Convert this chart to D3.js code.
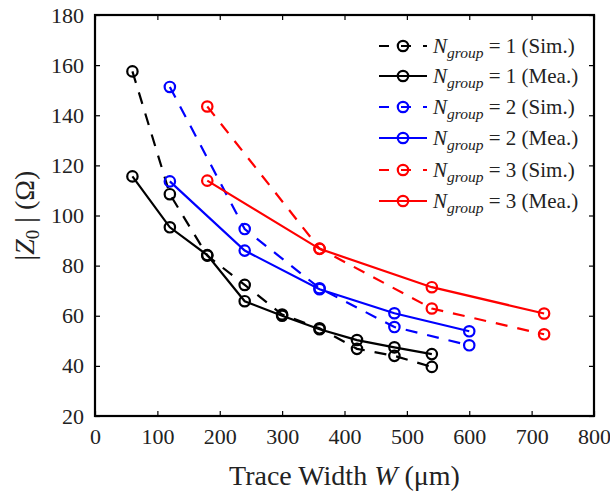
<!DOCTYPE html>
<html>
<head>
<meta charset="utf-8">
<script src="https://cdn.jsdelivr.net/npm/d3@7"></script>
<style>
  html, body { margin: 0; padding: 0; background: #fff; }
  svg { display: block; }
  text { font-family: "Liberation Serif", "Times New Roman", serif; }
</style>
</head>
<body>
<svg id="chart" width="610" height="493"></svg>
<script>
// Trace widths (µm) per group count
const widthsG1 = [60, 120, 180, 240, 300, 360, 420, 480, 540];
const widthsG2 = [120, 240, 360, 480, 600];
const widthsG3 = [180, 360, 540, 720];

// Characteristic impedance |Z0| (Ω)
const g1Sim = [157.5, 108.5, 84.0, 72.3, 60.5, 55.0, 46.8, 44.0, 39.6];
const g1Mea = [115.6, 95.3, 84.2, 65.8, 60.0, 54.6, 50.3, 47.4, 44.7];
const g2Sim = [151.3, 94.6, 71.0, 55.5, 48.2];
const g2Mea = [113.6, 86.0, 70.6, 61.0, 53.8];
const g3Sim = [143.5, 86.8, 62.9, 52.6];
const g3Mea = [113.9, 86.7, 71.4, 60.9];

const xTicks = [0, 100, 200, 300, 400, 500, 600, 700, 800];
const yTicks = [20, 40, 60, 80, 100, 120, 140, 160, 180];

const seriesList = [
  { n: 1, kind: "Sim.", xs: widthsG1, ys: g1Sim, color: "#000000", dashed: true },
  { n: 1, kind: "Mea.", xs: widthsG1, ys: g1Mea, color: "#000000", dashed: false },
  { n: 2, kind: "Sim.", xs: widthsG2, ys: g2Sim, color: "#0000ff", dashed: true },
  { n: 2, kind: "Mea.", xs: widthsG2, ys: g2Mea, color: "#0000ff", dashed: false },
  { n: 3, kind: "Sim.", xs: widthsG3, ys: g3Sim, color: "#ff0000", dashed: true },
  { n: 3, kind: "Mea.", xs: widthsG3, ys: g3Mea, color: "#ff0000", dashed: false }
];

const svg = d3.select("#chart");
const L = 95, R = 594, T = 15, B = 416;

const x = d3.scaleLinear().domain([0, 800]).range([L, R]);
const y = d3.scaleLinear().domain([20, 180]).range([B, T]);

const tickLen = 5;
const dashPattern = "12,10";

// Axes with inward ticks on all four sides
const axBottom = svg.append("g").attr("transform", `translate(0,${B})`)
  .call(d3.axisBottom(x).tickValues(xTicks).tickSizeInner(-tickLen).tickSizeOuter(0).tickPadding(10));
const axLeft = svg.append("g").attr("transform", `translate(${L},0)`)
  .call(d3.axisLeft(y).tickValues(yTicks).tickSizeInner(-tickLen).tickSizeOuter(0).tickPadding(11));
const axTop = svg.append("g").attr("transform", `translate(0,${T})`)
  .call(d3.axisTop(x).tickValues(xTicks).tickSizeInner(-tickLen).tickSizeOuter(0).tickFormat(""));
const axRight = svg.append("g").attr("transform", `translate(${R},0)`)
  .call(d3.axisRight(y).tickValues(yTicks).tickSizeInner(-tickLen).tickSizeOuter(0).tickFormat(""));

[axBottom, axLeft, axTop, axRight].forEach(g => {
  g.select(".domain").remove();
  g.selectAll(".tick line").attr("stroke", "#000").attr("stroke-width", 1.2);
  g.selectAll(".tick text")
    .attr("fill", "#222")
    .style("font-family", "'Liberation Serif', serif")
    .style("font-size", "22px");
});
axBottom.selectAll(".tick text").attr("dy", "0.8em");

// Frame
svg.append("rect")
  .attr("x", L).attr("y", T).attr("width", R - L).attr("height", B - T)
  .attr("fill", "none").attr("stroke", "#000").attr("stroke-width", 2.2);

// Series lines and markers
const line = d3.line().x(d => x(d[0])).y(d => y(d[1]));
const plot = svg.append("g");
seriesList.forEach(s => {
  const pts = s.xs.map((v, i) => [v, s.ys[i]]);
  plot.append("path")
    .attr("d", line(pts))
    .attr("fill", "none")
    .attr("stroke", s.color)
    .attr("stroke-width", 2.2)
    .attr("stroke-dasharray", s.dashed ? dashPattern : null);
  plot.selectAll(null).data(pts).enter().append("circle")
    .attr("cx", d => x(d[0])).attr("cy", d => y(d[1]))
    .attr("r", 5.2)
    .attr("fill", "none")
    .attr("stroke", s.color)
    .attr("stroke-width", 2.2);
});

// Legend
const legend = svg.append("g");
const rowY = [46, 76, 107, 138, 170, 201];
seriesList.forEach((s, i) => {
  const yy = rowY[i];
  legend.append("line")
    .attr("x1", 379).attr("x2", 427).attr("y1", yy).attr("y2", yy)
    .attr("stroke", s.color).attr("stroke-width", 2.2)
    .attr("stroke-dasharray", s.dashed ? "10,12" : null);
  legend.append("circle")
    .attr("cx", 403).attr("cy", yy).attr("r", 5.2)
    .attr("fill", "none").attr("stroke", s.color).attr("stroke-width", 2.2);
  const t = legend.append("text")
    .attr("x", 433).attr("y", yy + 7)
    .style("font-size", "21px").attr("fill", "#222");
  t.append("tspan").style("font-style", "italic").text("N");
  t.append("tspan").style("font-style", "italic").style("font-size", "15.5px")
    .attr("dy", 5).text("group");
  t.append("tspan").attr("dy", -5).text(` = ${s.n} (${s.kind})`);
});

// Axis titles
const xt = svg.append("text")
  .attr("x", (L + R) / 2).attr("y", 485)
  .attr("text-anchor", "middle")
  .style("font-size", "28px").attr("fill", "#222");
xt.append("tspan").text("Trace Width ");
xt.append("tspan").style("font-style", "italic").text("W");
xt.append("tspan").text(" (μm)");

const yt = svg.append("text")
  .attr("transform", `translate(34,${(T + B) / 2}) rotate(-90)`)
  .attr("text-anchor", "middle")
  .style("font-size", "28px").attr("fill", "#222");
yt.append("tspan").text("|");
yt.append("tspan").style("font-style", "italic").text("Z");
yt.append("tspan").style("font-size", "19px").attr("dy", 5).text("0");
yt.append("tspan").attr("dy", -5).text(" | (Ω)");
</script>
</body>
</html>
